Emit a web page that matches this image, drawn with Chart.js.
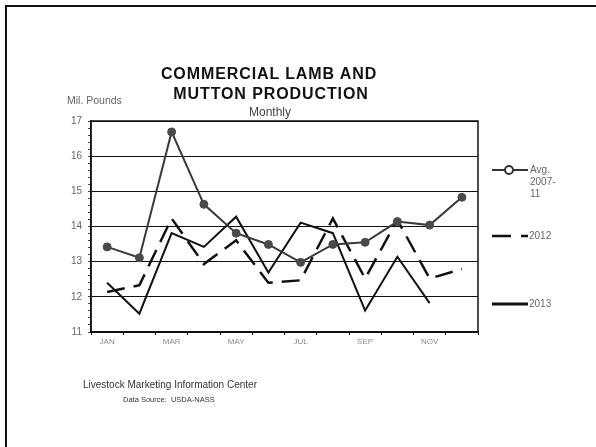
<!DOCTYPE html>
<html>
<head>
<meta charset="utf-8">
<script src="https://cdn.jsdelivr.net/npm/chart.js@4/dist/chart.umd.min.js"></script>
<style>
  html, body { margin: 0; padding: 0; background: #fff; }
  #page { position: relative; width: 596px; height: 447px; overflow: hidden; font-family: "Liberation Sans", Arial, sans-serif; }
  #frame { position: absolute; left: 5px; top: 5px; width: 600px; height: 460px; border-left: 2px solid #111; border-top: 2px solid #111; }
  #chartCanvas { position: absolute; left: 0; top: 0; }
  .txt { position: absolute; white-space: nowrap; }
  .title { font-weight: bold; font-size: 16px; color: #111; letter-spacing: 0.9px; transform: translateX(-50%); }
  .leg { font-size: 10px; color: #666; line-height: 12px; }
</style>
</head>
<body>
<div id="page">
  <div id="frame"></div>
  <canvas id="chartCanvas" width="596" height="447"></canvas>
  <div class="txt title" style="left:269px;top:65px;">COMMERCIAL LAMB AND</div>
  <div class="txt title" style="left:271px;top:85px;">MUTTON PRODUCTION</div>
  <div class="txt" style="left:270px;top:105px;font-size:12px;color:#444;transform:translateX(-50%);">Monthly</div>
  <div class="txt" style="left:67px;top:94px;font-size:10.5px;color:#666;">Mil. Pounds</div>
  <div class="txt leg" style="left:530px;top:164px;">Avg.<br>2007-<br>11</div>
  <div class="txt leg" style="left:529px;top:230px;">2012</div>
  <div class="txt leg" style="left:529px;top:298px;">2013</div>
  <div class="txt" style="left:83px;top:379px;font-size:10px;color:#333;">Livestock Marketing Information Center</div>
  <div class="txt" style="left:123px;top:395px;font-size:7.5px;color:#333;">Data Source:&nbsp; USDA-NASS</div>
</div>
<script>
// Data
const months = ['JAN', 'FEB', 'MAR', 'APR', 'MAY', 'JUN', 'JUL', 'AUG', 'SEP', 'OCT', 'NOV', 'DEC'];
const avg0711 = [13.42, 13.11, 16.69, 14.63, 13.81, 13.49, 12.98, 13.49, 13.55, 14.14, 14.04, 14.83];
const y2012 = [12.14, 12.33, 14.23, 12.93, 13.61, 12.40, 12.47, 14.23, 12.52, 14.19, 12.52, 12.79];
const y2013 = [12.40, 11.52, 13.81, 13.42, 14.28, 12.69, 14.11, 13.81, 11.61, 13.14, 11.82, null];
const yMin = 11, yMax = 17;

// box round the plot + legend samples
const framePlugin = {
    id: 'framePlugin',
    afterDraw(chart) {
        const ctx = chart.ctx;
        const a = chart.chartArea;
        ctx.save();
        ctx.strokeStyle = '#111';
        ctx.lineWidth = 1.5;
        ctx.strokeRect(a.left, a.top, a.right - a.left, a.bottom - a.top);

        // legend samples
        ctx.lineWidth = 2;
        ctx.strokeStyle = '#333';
        ctx.beginPath(); ctx.moveTo(492, 170); ctx.lineTo(528, 170); ctx.stroke();
        ctx.fillStyle = '#fff';
        ctx.beginPath(); ctx.arc(509, 170, 4, 0, Math.PI * 2); ctx.fill(); ctx.stroke();

        ctx.strokeStyle = '#111';
        ctx.lineWidth = 2.5;
        ctx.beginPath(); ctx.moveTo(492, 236); ctx.lineTo(511, 236); ctx.moveTo(521, 236); ctx.lineTo(528, 236); ctx.stroke();

        ctx.lineWidth = 3;
        ctx.beginPath(); ctx.moveTo(492, 304); ctx.lineTo(528, 304); ctx.stroke();
        ctx.restore();
    }
};

const ctx = document.getElementById('chartCanvas').getContext('2d');
new Chart(ctx, {
    type: 'line',
    data: {
        labels: months,
        datasets: [
            {
                label: 'Avg. 2007-11',
                data: avg0711,
                borderColor: '#3a3a3a',
                borderWidth: 2,
                pointRadius: 4,
                pointBorderWidth: 1,
                pointBackgroundColor: '#4a4a4a',
                pointBorderColor: '#4a4a4a',
                tension: 0
            },
            {
                label: '2012',
                data: y2012,
                borderColor: '#111',
                borderWidth: 2.5,
                borderDash: [18, 9],
                pointRadius: 0,
                tension: 0
            },
            {
                label: '2013',
                data: y2013,
                borderColor: '#111',
                borderWidth: 2,
                pointRadius: 0,
                spanGaps: false,
                tension: 0
            }
        ]
    },
    options: {
        responsive: false,
        animation: false,
        layout: { padding: { left: 60, right: 118, top: 121, bottom: 95 } },
        plugins: {
            legend: { display: false },
            title: { display: false },
            tooltip: { enabled: false }
        },
        scales: {
            x: {
                offset: true,
                afterFit: s => { s.height = 20; },
                grid: { offset: true, drawOnChartArea: false, tickLength: 3, color: '#111' },
                border: { color: '#111', width: 1.5 },
                ticks: {
                    autoSkip: false,
                    maxRotation: 0,
                    padding: 2,
                    color: '#888',
                    font: { family: 'Liberation Sans, Arial', size: 8 },
                    callback: (v, i) => (i % 2 === 0 ? months[i] : '')
                }
            },
            y: {
                min: yMin,
                max: yMax,
                afterFit: s => { s.width = 31; },
                border: { color: '#111', width: 1.5 },
                grid: {
                    tickLength: 3,
                    color: c => (Number.isInteger(Math.round(c.tick.value * 100) / 100) ? '#111' : 'rgba(0,0,0,0)'),
                    tickColor: '#444',
                    lineWidth: 1
                },
                ticks: {
                    stepSize: 0.2,
                    autoSkip: false,
                    padding: 6,
                    color: '#666',
                    font: { family: 'Liberation Sans, Arial', size: 10 },
                    callback: v => {
                        const r = Math.round(v * 100) / 100;
                        return Number.isInteger(r) ? String(r) : '';
                    }
                }
            }
        }
    },
    plugins: [framePlugin]
});
</script>
</body>
</html>
